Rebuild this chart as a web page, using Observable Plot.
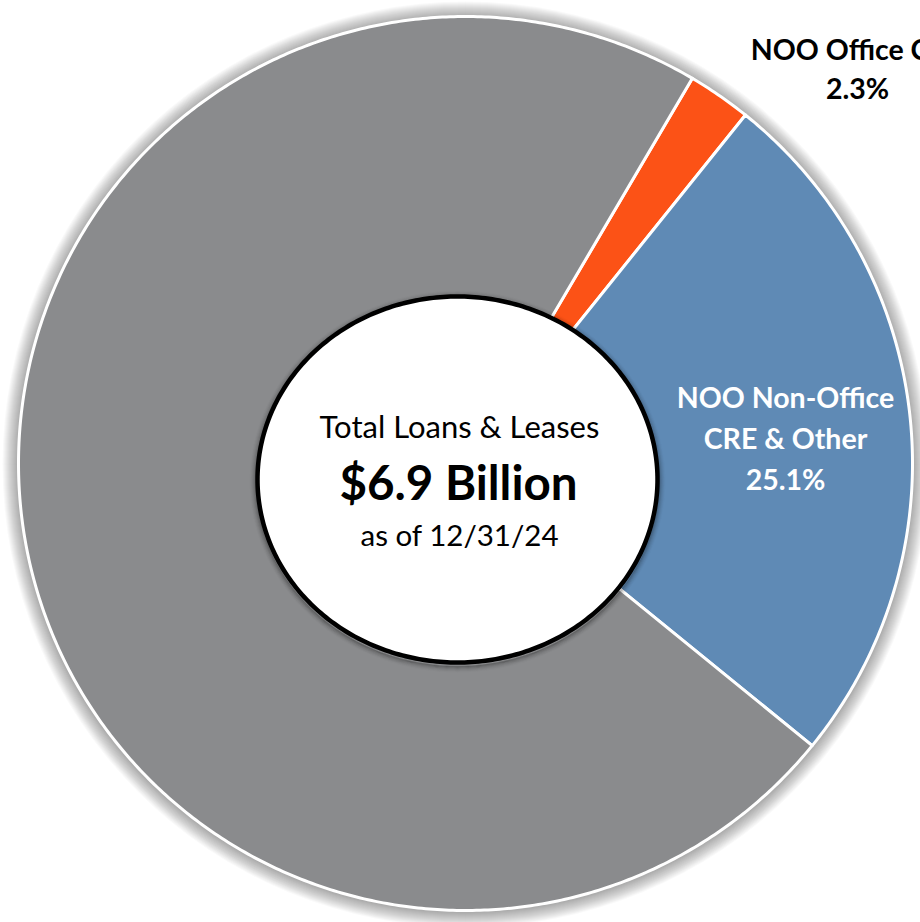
<!DOCTYPE html>
<html><head><meta charset="utf-8">
<script src="https://cdn.jsdelivr.net/npm/d3@7"></script>
<script src="https://cdn.jsdelivr.net/npm/@observablehq/plot@0.6"></script>
<style>body{margin:0;background:#fff} svg{display:block}</style>
</head><body><div id="chart"></div>
<script>
// ---- data ----
const categories = ["NOO Office CRE", "NOO Non-Office CRE & Other", "All Other Loans & Leases"];
const shares = [2.3, 25.1, 72.6];
const colors = ["#FC5216", "#5F8AB5", "#8A8B8D"];
const sliceLabels = ["NOO Office CRE\n2.3%", "NOO Non-Office\nCRE & Other\n25.1%", ""];
const centerLines = ["Total Loans & Leases", "$6.9 Billion", "as of 12/31/24"];

// ---- layout ----
const W = 920, H = 922;
const cx = 465, cy = 463, R = 447;
const start = 30.5 * Math.PI / 180;

const pie = d3.pie().sort(null).value(d => d.value).startAngle(start).endAngle(start + 2 * Math.PI);
const arcs = pie(categories.map((c, i) => ({category: c, value: shares[i], color: colors[i]})));

function wedge(a) {
  const n = Math.max(2, Math.ceil((a.endAngle - a.startAngle) / (Math.PI / 360)));
  const pts = [{x: cx, y: cy}];
  for (let k = 0; k <= n; k++) {
    const t = a.startAngle + (a.endAngle - a.startAngle) * k / n;
    pts.push({x: cx + R * Math.sin(t), y: cy - R * Math.cos(t)});
  }
  pts.push({x: cx, y: cy});
  return pts;
}
function ellipse(ex, ey, rx, ry) {
  return d3.range(0, 361, 1).map(d => ({x: ex + rx * Math.sin(d * Math.PI / 180), y: ey - ry * Math.cos(d * Math.PI / 180)}));
}

// soft halo behind the pie: stacked translucent discs (pixel radii)
const haloRadii = d3.range(16, 1, -1).map(k => R + k);
const halo = Plot.dot(haloRadii, {
  x: () => cx, y: () => cy + 1, r: d => d, fill: "#000", fillOpacity: 0.025, stroke: "none"
});
const discHalo = d3.range(0, 7).map(k => Plot.line(ellipse(457, 481, 202 + k, 185 + k), {
  x: "x", y: "y", stroke: "#000", strokeWidth: 1.3, strokeOpacity: 0.25 * Math.pow(1 - k / 7, 2)
}));

// label placement (layout)
const labelPos = [{x: 857, y: 98, lh: 1.36, size: 28.5}, {x: 785, y: 489, lh: 1.43, size: 28.5}];
const centerPos = [{x: 459, y: 437, size: 31, weight: 400}, {x: 458, y: 499, size: 47.5, weight: 700}, {x: 459, y: 545, size: 29.5, weight: 400}];

const marks = [
  halo,
  ...arcs.map(a => Plot.line(wedge(a), {x: "x", y: "y", fill: a.data.color, stroke: "white", strokeWidth: 3, strokeLinejoin: "round"})),
  ...discHalo,
  Plot.line(ellipse(457, 479, 200, 183), {x: "x", y: "y", fill: "white", stroke: "black", strokeWidth: 4.5}),
  ...labelPos.map((p, i) => Plot.text([sliceLabels[i]], {
    x: () => p.x, y: () => p.y, text: d => d, lineAnchor: "bottom", lineHeight: p.lh,
    fontSize: p.size, fontWeight: 700, fill: i === 0 ? "black" : "white", textAnchor: "middle"
  })),
  ...centerPos.map((p, i) => Plot.text([centerLines[i]], {
    x: () => p.x, y: () => p.y, text: d => d, lineAnchor: "bottom",
    fontSize: p.size, fontWeight: p.weight, fill: "black", textAnchor: "middle"
  }))
];

const svg = Plot.plot({
  width: W, height: H, margin: 0,
  style: {fontFamily: "Lato, sans-serif", background: "white", overflow: "hidden"},
  x: {domain: [0, W], range: [0, W], axis: null},
  y: {domain: [0, H], range: [0, H], axis: null},
  r: {type: "identity"},
  marks
});

document.getElementById("chart").appendChild(svg);
</script>
</body></html>
